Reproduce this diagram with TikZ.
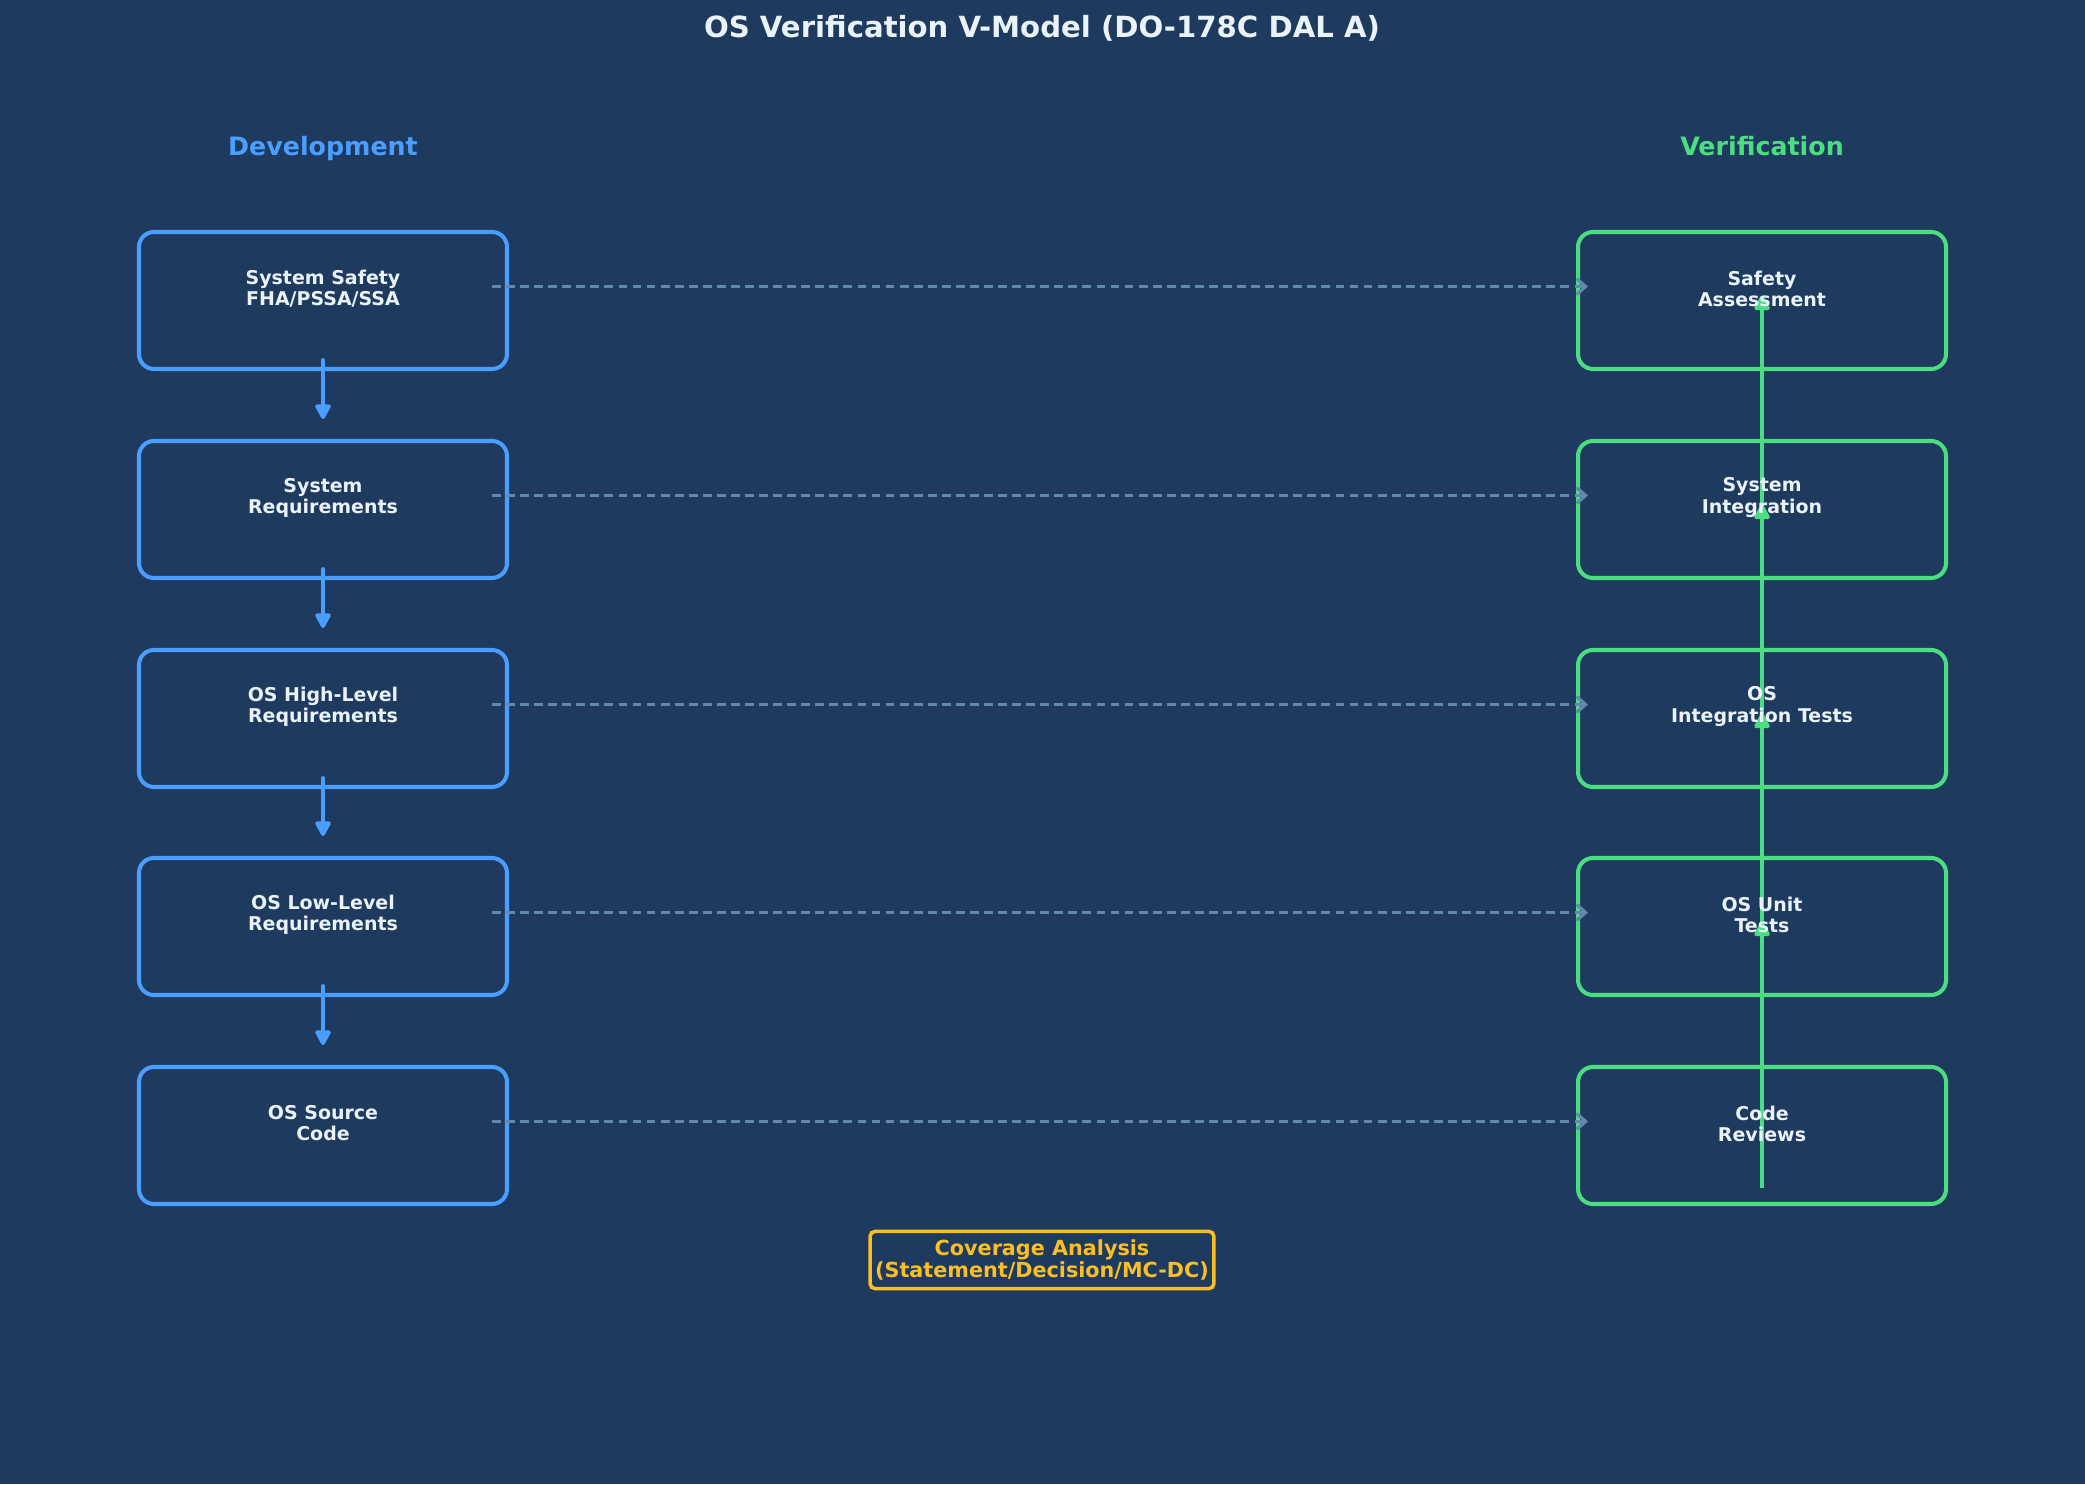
\documentclass[tikz,border=0pt]{standalone}
\usepackage{fontspec}
\setmainfont{DejaVu Sans}
\usetikzlibrary{arrows.meta}
\definecolor{bgnavy}{HTML}{1E3A5F}
\definecolor{devblue}{HTML}{4A9EFF}
\definecolor{vergreen}{HTML}{4ADE80}
\definecolor{covyellow}{HTML}{FBBF24}
\definecolor{tracegray}{HTML}{6388B0}
\definecolor{labelwhite}{HTML}{EAF2FA}
\tikzset{
  devbox/.style={draw=devblue, line width=1.15pt, rounded corners=0.15cm, minimum width=3.68cm, minimum height=1.37cm},
  verbox/.style={draw=vergreen, line width=1.15pt, rounded corners=0.15cm, minimum width=3.68cm, minimum height=1.37cm},
  boxtext/.style={text=labelwhite, font=\fontsize{5.4}{6}\selectfont\bfseries, align=center},
  flow/.style={draw=devblue, line width=1.1pt, line cap=round, -{Triangle[length=0.17cm, width=0.17cm, round]}},
  upflow/.style={draw=vergreen, line width=1.1pt, -{Triangle[length=0.17cm, width=0.17cm, round]}},
  trace/.style={draw=tracegray, line width=0.9pt, dash pattern=on 2.5pt off 1.5pt, -{Straight Barb[length=0.09cm, width=0.16cm]}}
}

\begin{document}
\begin{tikzpicture}
\useasboundingbox (0,0) rectangle (20.85,14.84);
\fill[bgnavy] (0,0) rectangle (20.85,14.84);
\node[anchor=base, text=labelwhite, font=\fontsize{8.3}{10}\selectfont\bfseries] (title) at (10.42,14.46) {OS Verification V-Model (DO-178C DAL A)};
\node[anchor=base, text=devblue, font=\fontsize{7.2}{8}\selectfont\bfseries] (devhead) at (3.23,13.28) {Development};
\node[anchor=base, text=vergreen, font=\fontsize{7.2}{8}\selectfont\bfseries] (verhead) at (17.62,13.28) {Verification};
% left side
\node[devbox] (ssa) at (3.23,11.835) {};
\node[devbox] (sysreq) at (3.23,9.745) {};
\node[devbox] (hlr) at (3.23,7.655) {};
\node[devbox] (llr) at (3.23,5.575) {};
\node[devbox] (src) at (3.23,3.485) {};
\node[boxtext] (ssatext) at ([yshift=0.12cm]ssa.center) {System Safety\\FHA/PSSA/SSA};
\node[boxtext] (sysreqtext) at ([yshift=0.12cm]sysreq.center) {System\\Requirements};
\node[boxtext] (hlrtext) at ([yshift=0.12cm]hlr.center) {OS High-Level\\Requirements};
\node[boxtext] (llrtext) at ([yshift=0.12cm]llr.center) {OS Low-Level\\Requirements};
\node[boxtext] (srctext) at ([yshift=0.12cm]src.center) {OS Source\\Code};
% right side
\node[verbox] (safety) at (17.62,11.835) {};
\node[verbox] (sysint) at (17.62,9.745) {};
\node[verbox] (osint) at (17.62,7.655) {};
\node[verbox] (unit) at (17.62,5.575) {};
\node[verbox] (review) at (17.62,3.485) {};
% arrows
\draw[flow] ([yshift=0.11cm]ssa.south) -- ([yshift=0.20cm]sysreq.north);
\draw[flow] ([yshift=0.11cm]sysreq.south) -- ([yshift=0.20cm]hlr.north);
\draw[flow] ([yshift=0.11cm]hlr.south) -- ([yshift=0.20cm]llr.north);
\draw[flow] ([yshift=0.11cm]llr.south) -- ([yshift=0.20cm]src.north);
\draw[upflow] ([yshift=-0.53cm]review.center) -- ([yshift=0.05cm]unit.center);
\draw[upflow] ([yshift=-0.53cm]unit.center) -- ([yshift=0.05cm]osint.center);
\draw[upflow] ([yshift=-0.53cm]osint.center) -- ([yshift=0.05cm]sysint.center);
\draw[upflow] ([yshift=-0.53cm]sysint.center) -- ([yshift=0.05cm]safety.center);
\draw[trace] ([xshift=-0.17cm, yshift=0.14cm]ssa.east) -- ([xshift=0.12cm, yshift=0.14cm]safety.west);
\draw[trace] ([xshift=-0.17cm, yshift=0.14cm]sysreq.east) -- ([xshift=0.12cm, yshift=0.14cm]sysint.west);
\draw[trace] ([xshift=-0.17cm, yshift=0.14cm]hlr.east) -- ([xshift=0.12cm, yshift=0.14cm]osint.west);
\draw[trace] ([xshift=-0.17cm, yshift=0.14cm]llr.east) -- ([xshift=0.12cm, yshift=0.14cm]unit.west);
\draw[trace] ([xshift=-0.17cm, yshift=0.14cm]src.east) -- ([xshift=0.12cm, yshift=0.14cm]review.west);
% labels drawn over the green line
\node[boxtext] (safetytext) at ([yshift=0.12cm]safety.center) {Safety\\Assessment};
\node[boxtext] (sysinttext) at ([yshift=0.12cm]sysint.center) {System\\Integration};
\node[boxtext] (osinttext) at ([yshift=0.12cm]osint.center) {OS\\Integration Tests};
\node[boxtext] (unittext) at ([yshift=0.12cm]unit.center) {OS Unit\\Tests};
\node[boxtext] (reviewtext) at ([yshift=0.12cm]review.center) {Code\\Reviews};
\node[draw=covyellow, line width=1pt, rounded corners=0.05cm, text=covyellow, font=\fontsize{5.9}{6.5}\selectfont\bfseries, align=center, inner xsep=0.05cm, inner ysep=0.08cm] (coverage) at (10.42,2.24) {Coverage Analysis\\(Statement/Decision/MC-DC)};
\end{tikzpicture}
\end{document}
